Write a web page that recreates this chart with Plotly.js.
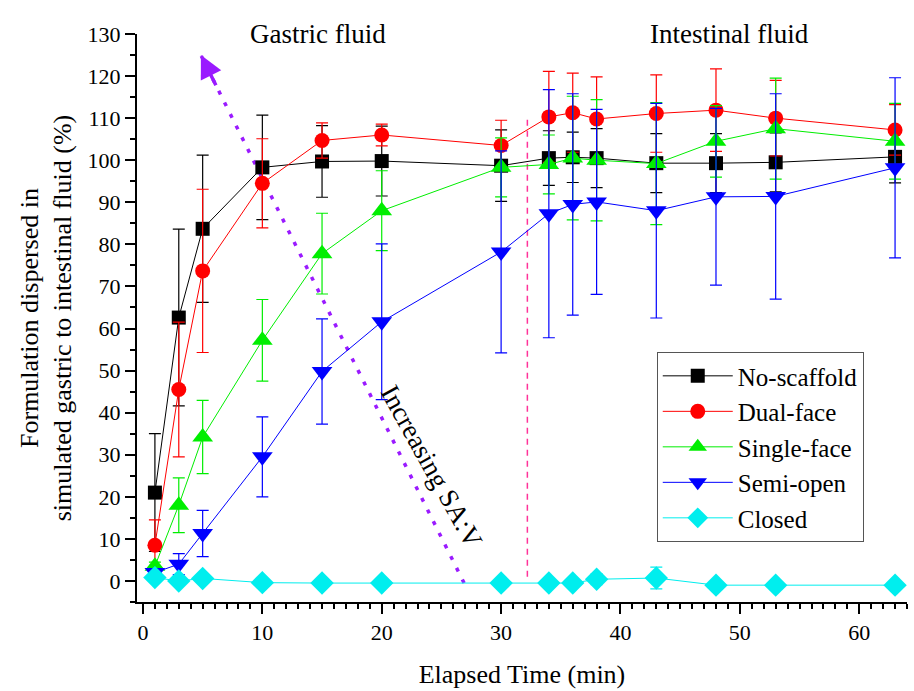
<!DOCTYPE html>
<html>
<head>
<meta charset="utf-8">
<script src="https://cdn.plot.ly/plotly-3.0.1.min.js"></script>
<style>html,body{margin:0;padding:0;background:#fff;}#chart{width:914px;height:691px;}</style>
</head>
<body>
<div id="chart"></div>
<script>
// Elapsed time (min)
const times = [1, 3, 5, 10, 15, 20, 30, 34, 36, 38, 43, 48, 53, 63];

const seriesNames = ["No-scaffold", "Dual-face", "Single-face", "Semi-open", "Closed"];

const noScaffold    = [21, 62.6, 83.7, 98.3, 99.7, 99.8, 98.7, 100.5, 100.7, 100.5, 99.3, 99.3, 99.5, 100.8];
const noScaffoldErr = [14, 21, 17.5, 12.4, 8.5, 8.3, 8.5, 6.5, 6, 7, 7, 7, 7, 6.2];

const dualFace    = [8.5, 45.5, 73.7, 94.5, 104.7, 106, 103.5, 110.3, 111.3, 109.8, 111.1, 111.9, 110, 107.2];
const dualFaceErr = [6, 16, 19.4, 10.6, 4.2, 2.6, 6, 10.8, 9.4, 10, 9.2, 9.8, 9, 6];

const singleFace    = [3.5, 18, 34.2, 57.2, 77.8, 88, 98.3, 99, 100.5, 100, 99.2, 104.5, 107.5, 104.5];
const singleFaceErr = [1, 6.5, 8.7, 9.7, 9.6, 9.5, 7, 7, 14.7, 14.4, 14.5, 8.5, 12, 9];

const semiOpen    = [2, 4, 11.3, 29.5, 49.8, 61.6, 78.2, 87.3, 89.5, 90.1, 88, 91.3, 91.4, 98.2];
const semiOpenErr = [0.7, 2.5, 5.5, 9.5, 12.5, 18.5, 24, 29.5, 26.3, 22, 25.5, 21, 24.4, 21.4];

const closed    = [0.8, 0, 0.6, -0.4, -0.5, -0.5, -0.5, -0.5, -0.5, 0.4, 0.7, -1, -1, -1];
const closedErr = [0.5, 0.5, 0.5, 0.5, 0.5, 0.5, 0.5, 0.6, 0.8, 1.3, 2.6, 0.5, 0.8, 0.5];

// annotation anchors
const phaseLabels = ["Gastric fluid", "Intestinal fluid"];
const phaseLabelX = [14.66, 49.1];
const dividerX = [32.2, 32.2];
const dividerY = [1, 110];
const arrowX = [26.9, 4.85];
const arrowY = [-0.5, 125];
const arrowText = "Increasing SA:V";
const arrowTextPos = [24.2, 27.1];

const FONT = "Liberation Serif, Times New Roman, serif";

const styles = [
  {color: "#000000", symbol: "square", size: 14},
  {color: "#ff0000", symbol: "circle", size: 15},
  {color: "#00ee00", symbol: "triangle-up", size: 18},
  {color: "#0000ff", symbol: "triangle-down", size: 18},
  {color: "#00eeee", symbol: "diamond", size: 18}
];
const values = [noScaffold, dualFace, singleFace, semiOpen, closed];
const errs = [noScaffoldErr, dualFaceErr, singleFaceErr, semiOpenErr, closedErr];

const traces = [];
traces.push({
  x: dividerX, y: dividerY, mode: "lines", showlegend: false, hoverinfo: "skip",
  line: {color: "#ff3399", width: 1.5, dash: "6px,5px"}
});
traces.push({
  x: arrowX, y: arrowY, mode: "lines", showlegend: false, hoverinfo: "skip",
  line: {color: "#9a1aff", width: 3.5, dash: "4px,9px"}
});
for (let i = 0; i < seriesNames.length; i++) {
  const s = styles[i];
  traces.push({
    x: times, y: values[i], name: seriesNames[i], type: "scatter", mode: "lines+markers",
    line: {color: s.color, width: 1},
    marker: {color: s.color, symbol: s.symbol, size: s.size, line: {width: 0}},
    error_y: {type: "data", array: errs[i], visible: true, color: s.color, thickness: 1.2, width: 6}
  });
}

const annotations = phaseLabels.map((t, i) => ({
  x: phaseLabelX[i], y: 1.0, xref: "x", yref: "paper", text: t, showarrow: false,
  font: {family: FONT, size: 27, color: "#000"}, xanchor: "center", yanchor: "middle"
}));
annotations.push({
  x: arrowX[1], y: arrowY[1], ax: arrowX[1] + (arrowX[0] - arrowX[1]) * 0.06,
  ay: arrowY[1] + (arrowY[0] - arrowY[1]) * 0.06, xref: "x", yref: "y", axref: "x", ayref: "y",
  text: "", showarrow: true, arrowhead: 2, arrowsize: 1.3, arrowwidth: 3.5, arrowcolor: "#9a1aff"
});
annotations.push({
  x: arrowTextPos[0], y: arrowTextPos[1], xref: "x", yref: "y", text: arrowText, showarrow: false,
  textangle: 61, font: {family: FONT, size: 27, color: "#000"}
});

const layout = {
  width: 914, height: 691,
  margin: {l: 137, r: 7, t: 34, b: 89},
  paper_bgcolor: "#fff", plot_bgcolor: "#fff",
  font: {family: FONT, size: 22, color: "#000"},
  showlegend: true,
  legend: {
    x: 0.675, y: 0.44, xanchor: "left", yanchor: "top",
    bordercolor: "#555", borderwidth: 1, bgcolor: "#fff",
    itemwidth: 70,
    font: {family: FONT, size: 25, color: "#000"}
  },
  xaxis: {
    range: [-0.5, 64], showgrid: false, zeroline: false,
    showline: true, linecolor: "#000", linewidth: 2,
    ticks: "outside", ticklen: 10, tickwidth: 2, tickcolor: "#000",
    dtick: 10, tick0: 0,
    minor: {dtick: 1, ticklen: 5, tickwidth: 2, tickcolor: "#000", ticks: "outside"},
    tickfont: {family: FONT, size: 22},
    title: {text: "Elapsed Time (min)", font: {family: FONT, size: 26}, standoff: 20}
  },
  yaxis: {
    range: [-5, 130], showgrid: false, zeroline: false,
    showline: true, linecolor: "#000", linewidth: 2,
    ticks: "outside", ticklen: 10, tickwidth: 2, tickcolor: "#000",
    dtick: 10, tick0: 0,
    minor: {dtick: 5, ticklen: 5, tickwidth: 2, tickcolor: "#000", ticks: "outside"},
    tickfont: {family: FONT, size: 22},
    title: {text: "Formulation dispersed in<br>simulated gastric to intestinal fluid (%)", font: {family: FONT, size: 26}, standoff: 8}
  },
  annotations: annotations
};

Plotly.newPlot("chart", traces, layout, {displayModeBar: false, staticPlot: true});
</script>
</body>
</html>
